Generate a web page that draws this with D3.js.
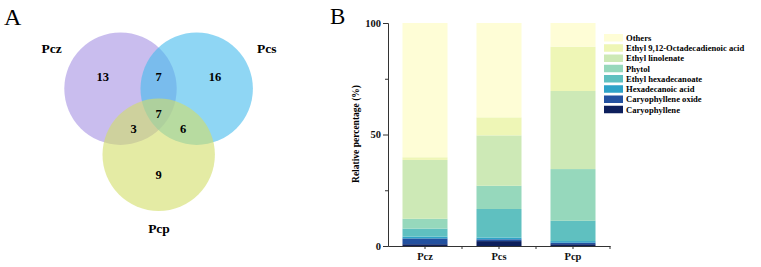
<!DOCTYPE html>
<html>
<head>
<meta charset="utf-8">
<script src="https://cdn.jsdelivr.net/npm/d3@7"></script>
<style>
  body { margin: 0; background: #fff; }
  svg { display: block; font-family: "Liberation Serif", "Times New Roman", serif; }
</style>
</head>
<body>
<div id="chartContainer"></div>
<script>
// ---- data ----
var vennSets = ["Pcz", "Pcs", "Pcp"];
var vennColors = ["#a591e3", "#44bbed", "#d2de67"];
// region counts: only Pcz, only Pcs, only Pcp, Pcz&Pcs, Pcz&Pcp, Pcs&Pcp, all
var vennRegions = ["Pcz", "Pcs", "Pcp", "Pcz&Pcs", "Pcz&Pcp", "Pcs&Pcp", "all"];
var vennCounts = [13, 16, 9, 7, 3, 6, 7];

var samples = ["Pcz", "Pcs", "Pcp"];
var compounds = ["Caryophyllene", "Caryophyllene oxide", "Hexadecanoic acid", "Ethyl hexadecanoate",
                 "Phytol", "Ethyl linolenate", "Ethyl 9,12-Octadecadienoic acid", "Others"];
var caryophyllene = [0.8, 2.2, 0.8];
var caryophylleneOxide = [2.6, 0.8, 0.7];
var hexadecanoicAcid = [0.8, 0.8, 0.7];
var ethylHexadecanoate = [3.6, 12.8, 9.1];
var phytol = [4.4, 10.4, 23.2];
var ethylLinolenate = [26.4, 22.6, 35.0];
var ethylOctadecadienoate = [1.2, 8.1, 19.9];
var others = [60.2, 42.3, 10.6];
var compoundColors = ["#0d1f5c", "#2351a0", "#2ea3c8", "#5fc0c0", "#96d8bc", "#cde9b6", "#eef6b6", "#fefdd6"];
var yTicks = [0, 50, 100];

var series = [caryophyllene, caryophylleneOxide, hexadecanoicAcid, ethylHexadecanoate,
              phytol, ethylLinolenate, ethylOctadecadienoate, others];
var table = samples.map(function (s, i) {
  var row = { sample: s };
  compounds.forEach(function (c, j) { row[c] = series[j][i]; });
  return row;
});

var svg = d3.select("#chartContainer").append("svg").attr("width", 761).attr("height", 267);

// ---- panel A: venn ----
svg.append("text").attr("x", 4).attr("y", 25).style("font-size", "24px").text("A");

var circlePos = [[120.5, 88.7], [196.7, 88.7], [158.7, 154.8]];
var r = 56.2;
svg.selectAll("circle.venn")
  .data(vennSets)
  .enter()
  .append("circle")
  .attr("class", "venn")
  .attr("cx", function (d, i) { return circlePos[i][0]; })
  .attr("cy", function (d, i) { return circlePos[i][1]; })
  .attr("r", r)
  .style("fill", function (d, i) { return vennColors[i]; })
  .style("opacity", 0.6);

var setLabelPos = [[51.7, 52.5], [266.7, 52.5], [159, 232.5]];
svg.selectAll("text.setlabel")
  .data(vennSets)
  .enter()
  .append("text")
  .attr("x", function (d, i) { return setLabelPos[i][0]; })
  .attr("y", function (d, i) { return setLabelPos[i][1]; })
  .attr("text-anchor", "middle")
  .style("font-size", "13.5px")
  .style("font-weight", "bold")
  .text(function (d) { return d; });

var regionPos = [[102.7, 81], [215, 81], [158.7, 178.5], [158.7, 81], [133.7, 132.5], [183, 132.5], [158.7, 118]];
svg.selectAll("text.count")
  .data(vennCounts)
  .enter()
  .append("text")
  .attr("x", function (d, i) { return regionPos[i][0]; })
  .attr("y", function (d, i) { return regionPos[i][1]; })
  .attr("text-anchor", "middle")
  .style("font-size", "12.5px")
  .style("font-weight", "bold")
  .text(function (d) { return d; });

// ---- panel B: stacked bars ----
svg.append("text").attr("x", 330).attr("y", 24).style("font-size", "23px").text("B");

var x = d3.scaleBand().domain(samples).range([388, 610]).padding(0);
var y = d3.scaleLinear().domain([0, 100]).range([246, 23]);
var barW = 45;

var stacked = d3.stack().keys(compounds)(table);
svg.append("g").selectAll("g")
  .data(stacked)
  .enter()
  .append("g")
  .style("fill", function (d, i) { return compoundColors[i]; })
  .selectAll("rect")
  .data(function (d) { return d; })
  .enter()
  .append("rect")
  .attr("x", function (d) { return x(d.data.sample) + x.bandwidth() / 2 - barW / 2; })
  .attr("width", barW)
  .attr("y", function (d) { return y(d[1]); })
  .attr("height", function (d) { return y(d[0]) - y(d[1]); });

// y axis
var yAxis = svg.append("g").attr("transform", "translate(388,0)")
  .call(d3.axisLeft(y).tickValues(yTicks).tickSize(5).tickPadding(2));
svg.append("g").attr("transform", "translate(388,0)")
  .call(d3.axisLeft(y).tickValues([25, 75]).tickSize(3).tickFormat(""))
  .select(".domain").remove();
yAxis.selectAll("text").style("font-size", "10.5px").style("font-weight", "bold")
  .style("font-family", "Liberation Serif, serif").attr("fill", "#111");
svg.selectAll(".domain, .tick line").attr("stroke", "#333");

// x axis
var xAxis = svg.append("g").attr("transform", "translate(0,246)")
  .call(d3.axisBottom(x).tickSize(3).tickSizeOuter(0).tickPadding(4));
xAxis.selectAll("text").style("font-size", "10.5px").style("font-weight", "bold")
  .style("font-family", "Liberation Serif, serif").attr("fill", "#111");
xAxis.selectAll(".minor")
  .data(samples)
  .enter()
  .append("line")
  .attr("x1", function (d) { return x(d) + x.bandwidth(); })
  .attr("x2", function (d) { return x(d) + x.bandwidth(); })
  .attr("y1", 0).attr("y2", 3)
  .attr("stroke", "#333");
xAxis.selectAll(".domain, .tick line").attr("stroke", "#333");

svg.append("text")
  .attr("transform", "translate(359,134) rotate(-90)")
  .attr("text-anchor", "middle")
  .style("font-size", "9.5px")
  .style("font-weight", "bold")
  .text("Relative percentage (%)");

// legend
var legend = svg.append("g").selectAll("g")
  .data(compounds.slice().reverse())
  .enter()
  .append("g")
  .attr("transform", function (d, i) { return "translate(604," + (34 + i * 10.25) + ")"; });
legend.append("rect")
  .attr("width", 19).attr("height", 7.5)
  .style("fill", function (d) { return compoundColors[compounds.indexOf(d)]; });
legend.append("text")
  .attr("x", 22).attr("y", 6.8)
  .style("font-size", "8.6px")
  .style("font-weight", "bold")
  .text(function (d) { return d; });
</script>
</body>
</html>
